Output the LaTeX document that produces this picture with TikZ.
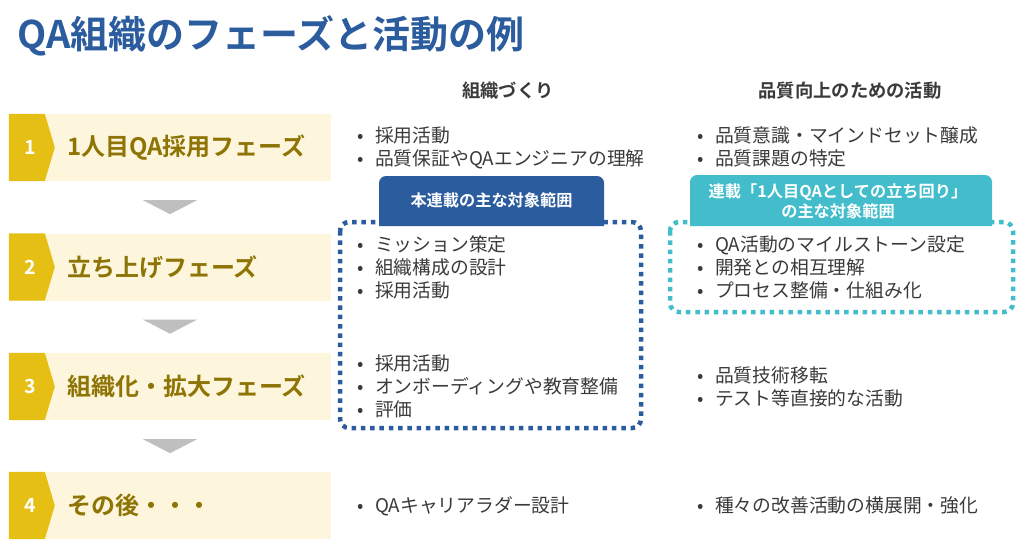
\documentclass[tikz,border=0pt]{standalone}
\usepackage{fontspec}
\setmainfont{Noto Sans CJK JP}[BoldFont={Noto Sans CJK JP Bold}]
\usetikzlibrary{calc}
\definecolor{titleblue}{HTML}{2B5C9E}
\definecolor{cream}{HTML}{FDF6DC}
\definecolor{tabgold}{HTML}{E6BF14}
\definecolor{olive}{HTML}{8E7405}
\definecolor{arrgray}{HTML}{BFBFBF}
\definecolor{bodytext}{HTML}{3A3A3A}
\definecolor{cyanhdr}{HTML}{43BDCB}
\newcommand{\bl}[1]{\makebox[0pt][c]{•}\hspace{15pt}#1}
\begin{document}
\begin{tikzpicture}[x=1pt,y=-1pt,
  band/.style={fill=cream,draw=none,minimum width=322pt,minimum height=67pt,inner sep=0pt},
  phasetxt/.style={anchor=west,inner sep=0pt,font=\bfseries\fontsize{24}{27}\selectfont,text=olive},
  numtxt/.style={inner sep=0pt,font=\bfseries\fontsize{19.5}{22}\selectfont,text=white},
  coltitle/.style={inner sep=0pt,font=\bfseries\fontsize{18.3}{21}\selectfont,text=bodytext},
  listtxt/.style={anchor=base west,inner sep=0pt,align=left,font=\fontsize{18.8}{23}\selectfont,text=bodytext},
  hdrtxt/.style={inner sep=0pt,align=center,font=\bfseries\fontsize{16.2}{20}\selectfont,text=white},
  dotline/.style={line width=4.5pt,dash pattern=on 4.5pt off 4.8pt,rounded corners=9pt}
]
\useasboundingbox (0,0) rectangle (1024,549);

% title
\node[anchor=west,inner sep=0pt,font=\bfseries\fontsize{38}{41}\selectfont,text=titleblue] (title) at (17,36) {QA組織のフェーズと活動の例};

% column titles
\node[coltitle] (c1) at (508,91) {組織づくり};
\node[coltitle] (c2) at (850,91) {品質向上のための活動};

% phase bands
\foreach \i/\y/\t in {1/147.5/{1人目QA採用フェーズ},2/267/{立ち上げフェーズ},3/386.5/{組織化・拡大フェーズ},4/505.5/{その後・・・}}{
  \node[band] (p\i) at (170,\y) {};
  \fill[tabgold] (p\i.north west) -- ++(36,0) -- ($(p\i.west)+(46,0)$) -- ($(p\i.south west)+(36,0)$) -- (p\i.south west) -- cycle;
  \node[numtxt] (n\i) at ($(p\i.west)+(21,0)$) {\i};
  \node[phasetxt] (t\i) at ($(p\i.west)+(58,0)$) {\t};
}

% gray down triangles
\foreach \a/\b in {p1/p2,p2/p3,p3/p4}{
  \fill[arrgray] ($(\a.south)+(-27,19)$) -- ($(\a.south)+(27,19)$) -- ($(\a.south)+(0,33)$) -- cycle;
}

% dotted boxes
\draw[dotline,titleblue] (340,222) rectangle (641,428);
\draw[dotline,cyanhdr] (670,222) rectangle (1013,312);

% header boxes
\fill[titleblue] (379,226) {[rounded corners=7pt] -- (379,176) -- (604,176)} -- (604,226) -- cycle;
\node[hdrtxt] (h1) at (491.5,200) {本連載の主な対象範囲};
\fill[cyanhdr] (690,226) {[rounded corners=7pt] -- (690,175) -- (992,175)} -- (992,226) -- cycle;
\node[hdrtxt] (h2) at (838,201) {連載「1人目QAとしての立ち回り」\\の主な対象範囲};

% lists left (anchor = baseline of last line)
\node[listtxt] (l1) at (360,165) {\bl{採用活動}\\\bl{品質保証やQAエンジニアの理解}};
\node[listtxt] (l2) at (360,297) {\bl{ミッション策定}\\\bl{組織構成の設計}\\\bl{採用活動}};
\node[listtxt] (l3) at (360,416) {\bl{採用活動}\\\bl{オンボーディングや教育整備}\\\bl{評価}};
\node[listtxt] (l4) at (360,512) {\bl{QAキャリアラダー設計}};

% lists right
\node[listtxt] (r1) at (700,165) {\bl{品質意識・マインドセット醸成}\\\bl{品質課題の特定}};
\node[listtxt] (r2) at (700,297) {\bl{QA活動のマイルストーン設定}\\\bl{開発との相互理解}\\\bl{プロセス整備・仕組み化}};
\node[listtxt] (r3) at (700,405) {\bl{品質技術移転}\\\bl{テスト等直接的な活動}};
\node[listtxt] (r4) at (700,512) {\bl{種々の改善活動の横展開・強化}};
\end{tikzpicture}
\end{document}
